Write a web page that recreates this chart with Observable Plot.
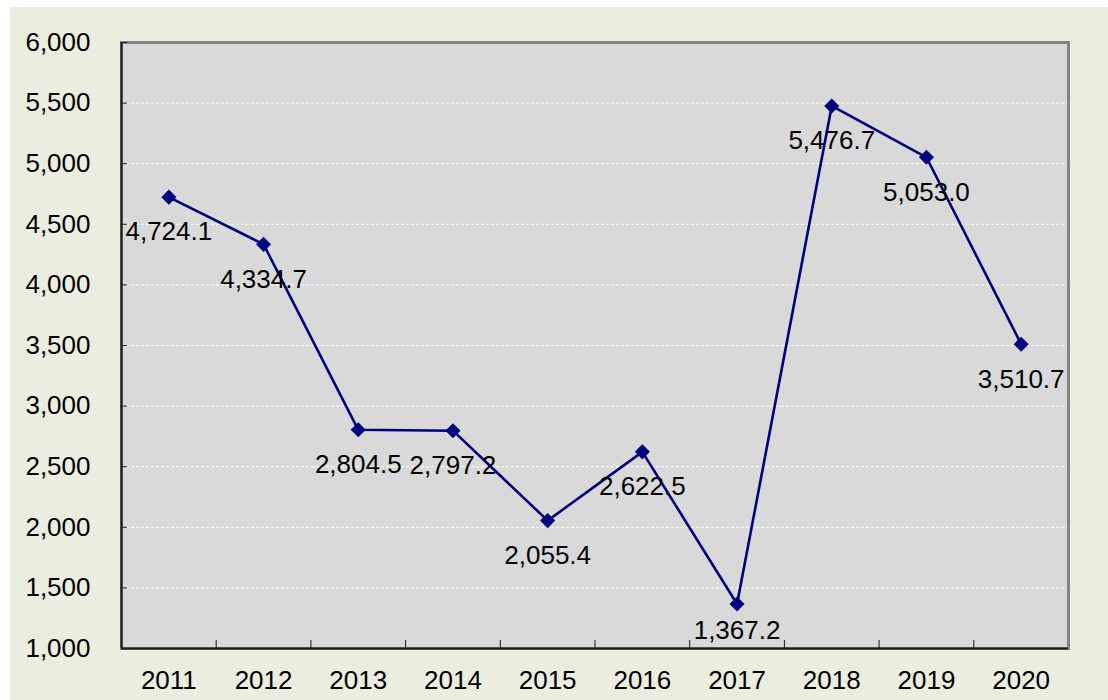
<!DOCTYPE html>
<html>
<head>
<meta charset="utf-8">
<script src="https://cdn.jsdelivr.net/npm/d3@7"></script>
<script src="https://cdn.jsdelivr.net/npm/@observablehq/plot@0.6"></script>
<style>
  html, body { margin: 0; padding: 0; background: #ffffff; }
  #wrap { position: absolute; left: 10px; top: 7px; width: 1098px; height: 693px; background: #ebeedf; }
  svg { display: block; }
</style>
</head>
<body>
<div id="wrap"></div>
<script>
const years = ["2011","2012","2013","2014","2015","2016","2017","2018","2019","2020"];
const values = [4724.1, 4334.7, 2804.5, 2797.2, 2055.4, 2622.5, 1367.2, 5476.7, 5053.0, 3510.7];
const yTicks = [1000, 1500, 2000, 2500, 3000, 3500, 4000, 4500, 5000, 5500, 6000];
const gridTicks = [1500, 2000, 2500, 3000, 3500, 4000, 4500, 5000, 5500];

const data = years.map((y, i) => ({year: y, value: values[i]}));
// labels near the bottom edge are nudged up to stay inside the plot area (as in the source)
const dataNormal = data.filter(d => d.value > 1500);
const dataLow = data.filter(d => d.value <= 1500);

const W = 1098, H = 693;
const mL = 111, mR = 40, mT = 35, mB = 52;
const halfBand = (W - mL - mR) / years.length / 2;

const fmt = d3.format(",.1f");
const axisColor = "#1a1a1a";
const FS = 26;

const chart = Plot.plot({
  width: W,
  height: H,
  marginLeft: mL,
  marginRight: mR,
  marginTop: mT,
  marginBottom: mB,
  style: {fontSize: FS + "px", fontFamily: "'Liberation Sans', Arial, sans-serif", background: "transparent", color: "#000"},
  x: {type: "band", domain: years, padding: 0, round: false, axis: null, label: null},
  y: {domain: [1000, 6000], axis: null, label: null},
  marks: [
    Plot.frame({fill: "#d9d9d9", stroke: "none"}),
    Plot.ruleY(gridTicks, {stroke: "#ffffff", strokeWidth: 1, strokeDasharray: "3,2"}),
    // outer border (top/right gray)
    Plot.frame({stroke: "#858585", strokeWidth: 3}),
    // axis lines
    Plot.ruleY([1000], {stroke: axisColor, strokeWidth: 2}),
    Plot.ruleX([years[0]], {stroke: axisColor, strokeWidth: 2, dx: -halfBand}),
    // y axis: inward ticks
    Plot.axisY(yTicks, {anchor: "left", tickSize: 6, dx: 6, tickFormat: () => "", stroke: axisColor, label: null}),
    // y axis labels
    Plot.axisY(yTicks, {anchor: "left", tickSize: 0, tickPadding: 31, tickFormat: d3.format(","), fontSize: FS, label: null}),
    // x axis labels
    Plot.axisX(years, {anchor: "bottom", tickSize: 0, tickPadding: 22, fontSize: FS, label: null}),
    // x boundary ticks (inward)
    Plot.axisX(years.slice(1), {anchor: "bottom", tickSize: 8, dy: -8, tickFormat: () => "", dx: -halfBand, stroke: axisColor, label: null}),
    Plot.line(data, {x: "year", y: "value", stroke: "#000080", strokeWidth: 2.6}),
    Plot.dot(data, {x: "year", y: "value", symbol: "diamond2", r: 6.8, fill: "#000080", stroke: "none"}),
    Plot.text(dataNormal, {x: "year", y: "value", text: d => fmt(d.value), dy: 35, fontSize: FS, fill: "#000", lineAnchor: "middle"}),
    Plot.text(dataLow, {x: "year", y: "value", text: d => fmt(d.value), dy: 27, fontSize: FS, fill: "#000", lineAnchor: "middle"})
  ]
});
document.getElementById("wrap").appendChild(chart);
</script>
</body>
</html>
